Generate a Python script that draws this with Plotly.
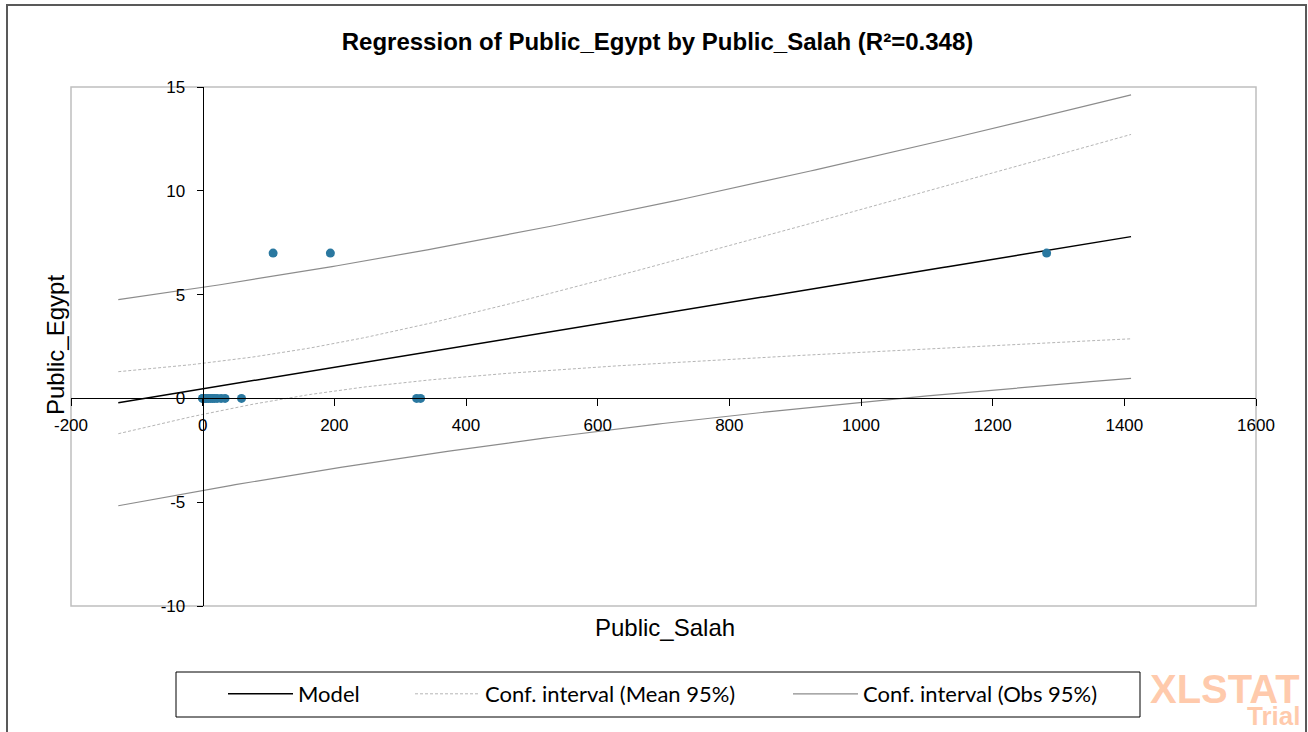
import numpy as np
import plotly.graph_objects as go

# ---- data ----
public_salah = [0, 0, 2, 4, 6, 9, 12, 15, 18, 22, 28, 34, 59, 325, 331, 107, 194, 1282]
public_egypt = [0, 0, 0, 0, 0, 0, 0, 0, 0, 0, 0, 0, 0, 0, 0, 7, 7, 7]
x_ticks = [-200, 0, 200, 400, 600, 800, 1000, 1200, 1400, 1600]
x_tick_text = ["-200", "0", "200", "400", "600", "800", "1000", "1200", "1400", "1600"]
y_ticks = [-10, -5, 0, 5, 10, 15]
y_tick_text = ["-10", "-5", "0", "5", "10", "15"]
t_crit = 2.119905  # Student t, 0.975, df = n - 2 = 16

# ---- OLS regression and intervals ----
x = np.array(public_salah, dtype=float)
y = np.array(public_egypt, dtype=float)
n = len(x)
xbar, ybar = x.mean(), y.mean()
sxx = ((x - xbar) ** 2).sum()
b = ((x - xbar) * (y - ybar)).sum() / sxx
a = ybar - b * xbar
resid = y - (a + b * x)
s = np.sqrt((resid ** 2).sum() / (n - 2))
span = x.max() - x.min()
xg = np.linspace(x.min() - 0.1 * span, x.max() + 0.1 * span, 200)
yg = a + b * xg
hm = t_crit * s * np.sqrt(1 / n + (xg - xbar) ** 2 / sxx)
ho = t_crit * s * np.sqrt(1 + 1 / n + (xg - xbar) ** 2 / sxx)

W, H = 1308, 732
L, R, T, B = 71, 52, 87, 126
pw, ph = W - L - R, H - T - B

def px(xp):
    return (xp - L) / pw

def py(yp):
    return (H - B - yp) / ph

FONT = "Liberation Sans, Arial, sans-serif"
LFONT = "Lato, Liberation Sans, sans-serif"
MEAN_COL = "#B5B5B5"
OBS_COL = "#8C8C8C"

fig = go.Figure()
fig.add_trace(go.Scatter(x=xg, y=yg, mode="lines", name="Model", legend="legend",
                         line=dict(color="black", width=1.5)))
fig.add_trace(go.Scatter(x=xg, y=yg - hm, mode="lines", name="Conf. interval (Mean 95%)",
                         legend="legend2",
                         line=dict(color=MEAN_COL, width=1, dash="3px,2px")))
fig.add_trace(go.Scatter(x=xg, y=yg + hm, mode="lines", showlegend=False,
                         line=dict(color=MEAN_COL, width=1, dash="3px,2px")))
fig.add_trace(go.Scatter(x=xg, y=yg - ho, mode="lines", name="Conf. interval (Obs 95%)",
                         legend="legend3",
                         line=dict(color=OBS_COL, width=1.2)))
fig.add_trace(go.Scatter(x=xg, y=yg + ho, mode="lines", showlegend=False,
                         line=dict(color=OBS_COL, width=1.2)))
fig.add_trace(go.Scatter(x=public_salah, y=public_egypt, mode="markers", showlegend=False,
                         marker=dict(color="#2A78A0", size=9)))

def leg(xstart):
    return dict(orientation="h", x=px(xstart - 2), xanchor="left", y=py(694), yanchor="middle",
                borderwidth=0, bgcolor="rgba(0,0,0,0)",
                font=dict(family=LFONT, size=22, color="black"), itemwidth=65)

fig.update_layout(
    width=W, height=H,
    margin=dict(l=L, r=R, t=T, b=B),
    paper_bgcolor="white", plot_bgcolor="white",
    font=dict(family=FONT, color="black", size=17),
    title=dict(text="<b>Regression of Public_Egypt by Public_Salah (R²=0.348)</b>",
               x=657.5 / W, xref="container", xanchor="center",
               y=1 - 42 / H, yref="container", yanchor="middle",
               font=dict(family=FONT, size=24, color="black")),
    xaxis=dict(range=[-200, 1600], tickvals=x_ticks, ticktext=x_tick_text,
               anchor="free", position=0.4,
               showline=True, linecolor="black", linewidth=1,
               ticks="outside", ticklen=7, tickcolor="black", ticklabelstandoff=4,
               showgrid=False, zeroline=False, tickfont=dict(size=17)),
    xaxis2=dict(range=[-200, 1600], tickvals=x_ticks, anchor="free", position=0.4,
                overlaying="x", matches="x", showline=False, showticklabels=False,
                ticks="inside", ticklen=7, tickcolor="black", showgrid=False, zeroline=False),
    yaxis=dict(range=[-10, 15], tickvals=y_ticks, ticktext=y_tick_text,
               anchor="free", position=200 / 1800,
               showline=True, linecolor="black", linewidth=1,
               ticks="outside", ticklen=6, tickcolor="black", ticklabelstandoff=8,
               showgrid=False, zeroline=False, tickfont=dict(size=17)),
    legend=leg(225),
    legend2=leg(412),
    legend3=leg(790),
    showlegend=True,
)

# plot-area frame, legend frame and outer chart frame
fig.add_shape(type="rect", xref="paper", yref="paper", x0=0, x1=1, y0=0, y1=1,
              line=dict(color="#BFBFBF", width=1.5), layer="below")
fig.add_shape(type="rect", xref="paper", yref="paper",
              x0=px(176), x1=px(1140), y0=py(717), y1=py(672),
              line=dict(color="black", width=1), layer="below")
fig.add_shape(type="rect", xref="paper", yref="paper",
              x0=px(7), x1=px(1306), y0=py(745), y1=py(5),
              line=dict(color="#595959", width=2), layer="below")

fig.add_annotation(text="Public_Salah", xref="paper", yref="paper", x=px(665), y=py(627),
                   xanchor="center", yanchor="middle", showarrow=False,
                   font=dict(family=FONT, size=24))
fig.add_annotation(text="Public_Egypt", xref="paper", yref="paper", x=px(55), y=py(345),
                   xanchor="center", yanchor="middle", showarrow=False, textangle=-90,
                   font=dict(family=FONT, size=24))
fig.add_annotation(text="<b>XLSTAT</b>", xref="paper", yref="paper", x=px(1302), y=py(689),
                   xanchor="right", yanchor="middle", showarrow=False,
                   font=dict(family=FONT, size=40, color="rgba(255,150,90,0.5)"))
fig.add_annotation(text="<b>Trial</b>", xref="paper", yref="paper", x=px(1302), y=py(716),
                   xanchor="right", yanchor="middle", showarrow=False,
                   font=dict(family=FONT, size=26, color="rgba(255,150,90,0.5)"))

fig.write_html("out.html",
               config={"staticPlot": True, "displayModeBar": False},
               post_script="document.body.style.margin='0';document.body.style.overflow='hidden';")
